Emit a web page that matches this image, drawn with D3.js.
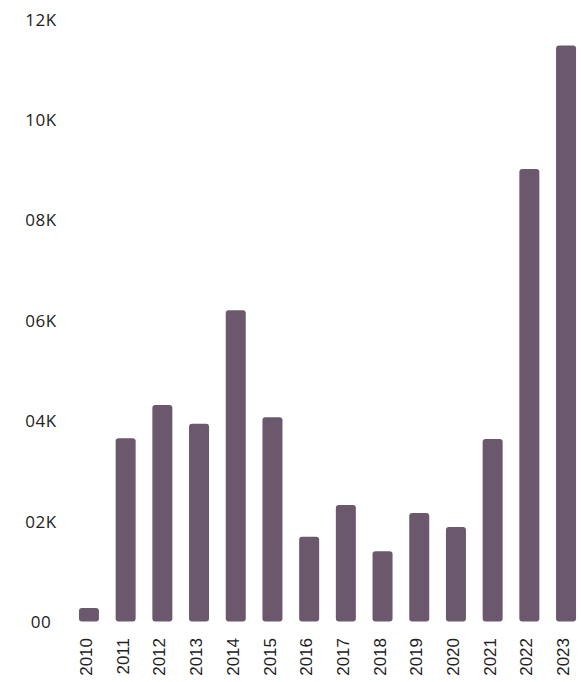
<!DOCTYPE html>
<html>
<head>
<meta charset="utf-8">
<script src="https://cdn.jsdelivr.net/npm/d3@7"></script>
<style>
  body { margin: 0; background: #fff; }
  text { font-family: "Open Sans", "Noto Sans", sans-serif; fill: #222; }
</style>
</head>
<body>
<svg class="canvasClass" width="581" height="682"></svg>
<script>
// data
const years = ["2010", "2011", "2012", "2013", "2014", "2015", "2016",
               "2017", "2018", "2019", "2020", "2021", "2022", "2023"];
const counts = [270, 3650, 4310, 3940, 6200, 4070, 1690,
                2320, 1400, 2160, 1880, 3635, 9010, 11470];
const tickValues = [0, 2000, 4000, 6000, 8000, 10000, 12000];
const tickLabels = ["00", "02K", "04K", "06K", "08K", "10K", "12K"];

let svg = d3.select(".canvasClass");

let x = d3.scaleBand()
    .domain(years)
    .range([70.6, 584.4])
    .paddingInner(0.455)
    .paddingOuter(0.2275);

let y = d3.scaleLinear()
    .domain([0, 12000])
    .range([621.5, 19]);

// bars
svg.append("g")
    .selectAll("rect")
    .data(years)
    .enter()
    .append("rect")
    .attr("x", d => x(d))
    .attr("width", x.bandwidth())
    .attr("y", (d, i) => y(counts[i]))
    .attr("height", (d, i) => y(0) - y(counts[i]))
    .attr("rx", 3)
    .attr("fill", "#6c586c");

// y labels, no axis line
let yAxis = svg.append("g")
    .attr("transform", "translate(41,0)")
    .call(d3.axisLeft(y)
        .tickValues(tickValues)
        .tickFormat((d, i) => tickLabels[i])
        .tickSize(0));
yAxis.select(".domain").remove();
yAxis.selectAll("text")
    .attr("x", 0)
    .attr("dy", "0.36em")
    .attr("text-anchor", "middle")
    .style("font-size", "17px")
    .style("letter-spacing", "0.6px")
    .style("font-family", "'Open Sans', sans-serif")
    .attr("fill", "#222");

// x labels, rotated
let xAxis = svg.append("g")
    .attr("transform", "translate(0,638)")
    .call(d3.axisBottom(x).tickSize(0));
xAxis.select(".domain").remove();
xAxis.selectAll("text")
    .attr("transform", "translate(-3,0) rotate(-90)")
    .attr("x", 0)
    .attr("y", 0)
    .attr("dy", "0.36em")
    .attr("text-anchor", "end")
    .style("font-size", "17px")
    .style("font-family", "'Liberation Sans', Arial, sans-serif")
    .attr("fill", "#222");
</script>
</body>
</html>
